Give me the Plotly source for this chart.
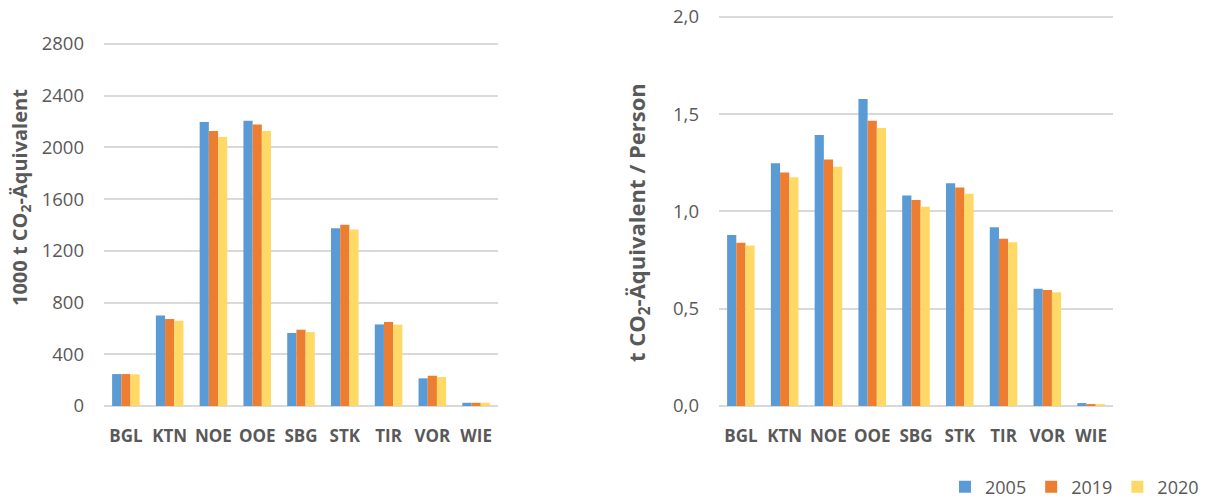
import plotly.graph_objects as go
from plotly.subplots import make_subplots

regions = ["BGL", "KTN", "NOE", "OOE", "SBG", "STK", "TIR", "VOR", "WIE"]
years = ["2005", "2019", "2020"]
colors = ["#5B9BD5", "#ED7D31", "#FFD966"]

# 1000 t CO2-Äquivalent
total_2005 = [247, 700, 2196, 2206, 565, 1374, 631, 214, 25]
total_2019 = [247, 673, 2127, 2178, 590, 1402, 650, 234, 25]
total_2020 = [245, 660, 2080, 2127, 572, 1366, 629, 224, 25]

# t CO2-Äquivalent / Person
per_2005 = [0.878, 1.247, 1.392, 1.577, 1.082, 1.144, 0.918, 0.603, 0.015]
per_2019 = [0.839, 1.200, 1.267, 1.466, 1.058, 1.123, 0.859, 0.596, 0.010]
per_2020 = [0.825, 1.175, 1.229, 1.428, 1.024, 1.091, 0.841, 0.584, 0.010]

totals = [total_2005, total_2019, total_2020]
pers = [per_2005, per_2019, per_2020]

# page has an 8px body margin: figure sized so the page is exactly 1212x504
OFF = 8
W, H = 1212 - 2 * OFF, 504 - 2 * OFF
MB = 40  # bottom margin
PH = H - MB  # plot-area height


def px(x):
    return (x - OFF) / W


def py(y):
    return 1 - (y - OFF) / PH


# pixel targets (page coordinates)
L_TOP, L_ZERO, L_MAX = 44.0, 406.0, 2800
R_TOP, R_ZERO, R_MAX = 16.7, 406.0, 2.0
L_RTOP = 2830   # range slightly beyond last tick so its gridline is drawn
R_RTOP = 2.02
l_top_px = L_ZERO - (L_ZERO - L_TOP) * L_RTOP / L_MAX
r_top_px = R_ZERO - (R_ZERO - R_TOP) * R_RTOP / R_MAX

fig = make_subplots(rows=1, cols=2)

for i, y in enumerate(years):
    fig.add_trace(go.Bar(x=regions, y=totals[i], name=y, marker_color=colors[i],
                         marker_line_width=0, showlegend=False), row=1, col=1)
for i, y in enumerate(years):
    fig.add_trace(go.Bar(x=regions, y=pers[i], name=y, marker_color=colors[i],
                         marker_line_width=0, showlegend=True), row=1, col=2)

grey = "#595959"
grid = "#D9D9D9"
ff = "Open Sans"

xcommon = dict(automargin=False, showgrid=False, ticks="", showline=False,
               tickfont=dict(size=17, color=grey, family=ff, weight="bold"),
               ticklabelstandoff=18)
ycommon = dict(automargin=False, showgrid=True, gridcolor=grid, gridwidth=1.5,
               zeroline=True, zerolinecolor=grid, zerolinewidth=2, ticks="",
               tickfont=dict(size=18.5, color=grey, family=ff), ticklabelstandoff=19,
               ticklabeloverflow="allow")

fig.update_layout(
    width=W, height=H,
    template="none",
    paper_bgcolor="white", plot_bgcolor="white",
    margin=dict(l=0, r=0, t=0, b=MB),
    barmode="group", bargap=0.37, bargroupgap=0,
    separators=",.",
    font=dict(family=ff, color=grey, size=17),
    legend=dict(orientation="h", xref="container", yref="container",
                x=937 / W, xanchor="left", y=1 - (487 - OFF) / H, yanchor="middle",
                font=dict(size=18, color=grey, family=ff), bgcolor="rgba(0,0,0,0)",
                itemwidth=30, traceorder="normal"),
    xaxis=dict(domain=[px(104), px(498)], **xcommon),
    xaxis2=dict(domain=[px(719), px(1113)], **xcommon),
    yaxis=dict(domain=[py(L_ZERO), py(l_top_px)], range=[0, L_RTOP], dtick=400, tick0=0,
               **ycommon),
    yaxis2=dict(domain=[py(R_ZERO), py(r_top_px)], range=[0, R_RTOP], dtick=0.5, tick0=0,
                tickformat=".1f", **ycommon),
)

fig.add_annotation(text="<b>1000 t CO<sub>2</sub>-Äquivalent</b>", textangle=-90,
                   xref="paper", yref="paper", x=px(21), y=py(198),
                   xanchor="center", yanchor="middle", showarrow=False,
                   font=dict(size=20, color=grey, family=ff))
fig.add_annotation(text="<b>t CO<sub>2</sub>-Äquivalent / Person</b>", textangle=-90,
                   xref="paper", yref="paper", x=px(638), y=py(223),
                   xanchor="center", yanchor="middle", showarrow=False,
                   font=dict(size=22, color=grey, family=ff))

fig.write_html("out.html")
